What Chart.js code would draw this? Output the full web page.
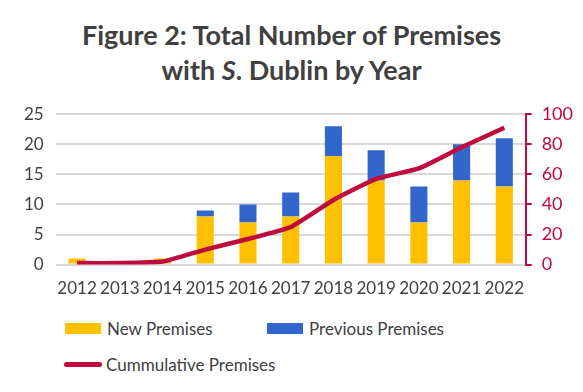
<!DOCTYPE html>
<html>
<head>
<meta charset="utf-8">
<script src="https://cdn.jsdelivr.net/npm/chart.js@4"></script>
<style>
    body { margin: 0; width: 583px; height: 392px; background: #fff; font-family: Lato, "Open Sans", sans-serif; position: relative; overflow: hidden; }
    #title { position: absolute; top: 17px; left: 0; width: 583px; text-align: center; font-weight: bold; font-size: 27px; line-height: 35px; color: #404040; }
    #chartBox { position: absolute; left: 0; top: 92px; width: 583px; height: 213px; }
    .legend { position: absolute; font-size: 17px; color: #404040; display: flex; align-items: center; }
    .swatch { width: 36px; height: 11px; margin-right: 6px; }
    .lineSwatch { width: 38px; height: 5px; border-radius: 3px; margin-right: 4px; }
</style>
</head>
<body>
<div id="title">Figure 2: Total Number of Premises<br>with <i>S</i>. Dublin by Year</div>
<div id="chartBox"><canvas id="premisesChart"></canvas></div>
<div class="legend" style="left:65px; top:318px;"><div class="swatch" style="background:#FFC000"></div>New Premises</div>
<div class="legend" style="left:267px; top:318px;"><div class="swatch" style="background:#3366CC"></div>Previous Premises</div>
<div class="legend" style="left:64px; top:354px;"><div class="lineSwatch" style="background:#BE0A3C"></div>Cummulative Premises</div>
<script>
const years = ['2012', '2013', '2014', '2015', '2016', '2017', '2018', '2019', '2020', '2021', '2022'];
const newPremises = [1, 0, 1, 8, 7, 8, 18, 14, 7, 14, 13];
const previousPremises = [0, 0, 0, 1, 3, 4, 5, 5, 6, 6, 8];
const cumulativePremises = [1, 1, 2, 10, 17, 25, 43, 57, 64, 78, 91];

const crimson = '#BE0A3C';
const textGrey = '#404040';

// Build the combined bar + line chart
const ctx = document.getElementById('premisesChart').getContext('2d');
new Chart(ctx, {
    data: {
        labels: years,
        datasets: [
            {
                type: 'line',
                label: 'Cummulative Premises',
                data: cumulativePremises,
                yAxisID: 'y1',
                borderColor: crimson,
                borderWidth: 4.5,
                pointRadius: 0,
                tension: 0.15,
                order: 0
            },
            {
                type: 'bar',
                label: 'New Premises',
                data: newPremises,
                backgroundColor: '#FFC000',
                stack: 'p',
                barPercentage: 0.8,
                categoryPercentage: 0.5,
                order: 1
            },
            {
                type: 'bar',
                label: 'Previous Premises',
                data: previousPremises,
                backgroundColor: '#3366CC',
                stack: 'p',
                barPercentage: 0.8,
                categoryPercentage: 0.5,
                order: 1
            }
        ]
    },
    options: {
        responsive: true,
        maintainAspectRatio: false,
        animation: false,
        layout: { padding: { left: 12, right: 0, top: 6, bottom: 0 } },
        plugins: {
            legend: { display: false },
            tooltip: { enabled: false }
        },
        scales: {
            x: {
                stacked: true,
                grid: { display: false },
                border: { display: false },
                ticks: { color: textGrey, font: { family: 'Lato', size: 17 }, maxRotation: 0, autoSkip: false, padding: 6 }
            },
            y: {
                stacked: true,
                min: 0,
                max: 25,
                ticks: { stepSize: 5, color: textGrey, font: { family: 'Lato', size: 17 }, padding: 12 },
                grid: { color: '#D9D9D9', lineWidth: 2, drawTicks: false },
                border: { display: false }
            },
            y1: {
                position: 'right',
                min: 0,
                max: 100,
                ticks: { stepSize: 20, color: crimson, font: { family: 'Lato', size: 18 }, padding: 10 },
                grid: { drawOnChartArea: false, color: crimson, lineWidth: 2, tickLength: 6 },
                border: { color: crimson, width: 2 }
            }
        }
    }
});
</script>
</body>
</html>
